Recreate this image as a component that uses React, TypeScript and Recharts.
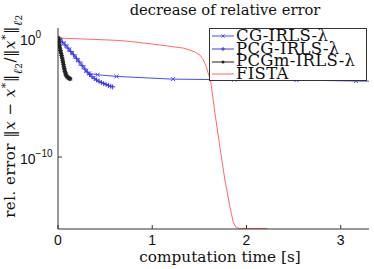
import React from 'react';
import { LineChart, Line, XAxis, YAxis, Legend } from 'recharts';

// values (errors stored as log10)
const cgTime = [0, 0.03, 0.06, 0.09, 0.12, 0.15, 0.18, 0.21, 0.24, 0.27, 0.3, 0.33, 0.42, 0.62, 1.22, 1.87, 2.53, 3.16, 3.3];
const cgLogErr = [0, -0.2, -0.43, -0.68, -0.96, -1.25, -1.55, -1.85, -2.15, -2.45, -2.75, -2.97, -3.08, -3.22, -3.45, -3.5, -3.53, -3.61, -3.62];

const pcgTime = [0, 0.015, 0.045, 0.075, 0.105, 0.135, 0.165, 0.195, 0.225, 0.255, 0.285, 0.31, 0.335, 0.36, 0.385, 0.41, 0.435, 0.46, 0.485, 0.51, 0.535, 0.56, 0.58];
const pcgLogErr = [0, -0.1, -0.33, -0.58, -0.84, -1.12, -1.4, -1.7, -2.0, -2.3, -2.6, -2.85, -3.06, -3.24, -3.4, -3.52, -3.63, -3.73, -3.82, -3.9, -3.98, -4.05, -4.1];

const pcgmTime = [0, 0.003, 0.006, 0.009, 0.012, 0.015, 0.018, 0.022, 0.026, 0.03, 0.034, 0.038, 0.042, 0.046, 0.05, 0.054, 0.058, 0.062, 0.066, 0.07, 0.074, 0.078, 0.082, 0.087, 0.093, 0.1, 0.108, 0.116, 0.124, 0.13];
const pcgmLogErr = [0, -0.12, -0.25, -0.38, -0.5, -0.63, -0.76, -0.9, -1.04, -1.18, -1.32, -1.46, -1.6, -1.74, -1.9, -2.06, -2.22, -2.38, -2.54, -2.68, -2.8, -2.92, -3.02, -3.12, -3.2, -3.27, -3.33, -3.37, -3.41, -3.43];

const fistaTime = [0, 0.2, 0.445, 0.636, 0.795, 1.0, 1.2, 1.33, 1.4, 1.46, 1.506, 1.535, 1.559, 1.578, 1.594, 1.619, 1.665, 1.718, 1.771, 1.824, 1.859, 1.88, 1.895, 1.93, 2.0, 2.1, 2.22];
const fistaLogErr = [0, -0.05, -0.13, -0.19, -0.31, -0.5, -0.7, -0.84, -1.01, -1.2, -1.43, -1.72, -2.13, -2.5, -2.97, -3.53, -6.3, -9.16, -11.93, -14.2, -15.45, -15.8, -15.95, -16.0, -16.0, -16.0, -16.0];

const xTicks = [0, 1, 2, 3];
const yTicks = [1e-10, 1];
const yTickExp = ['\u221210', '0'];

const seriesNames = ['CG-IRLS-\u03bb', 'PCG-IRLS-\u03bb', 'PCGm-IRLS-\u03bb', 'FISTA'];
const seriesColors = ['#4a4aff', '#3a3aee', '#222222', '#ff6a6a'];

const toRows = (t: number[], e: number[]) => t.map((v, i) => ({ t: v, err: Math.pow(10, e[i]) }));
const cgData = toRows(cgTime, cgLogErr);
const pcgData = toRows(pcgTime, pcgLogErr);
const pcgmData = toRows(pcgmTime, pcgmLogErr);
const fistaData = toRows(fistaTime, fistaLogErr);

const yDomain = [Math.pow(10, -16.05), Math.pow(10, 0.85)];
const frame = '#333';
const serif = '"DejaVu Serif", serif';
const sans = '"Liberation Sans", Arial, sans-serif';

const XMark = ({ cx, cy, c, s = 2 }: any) => (
  <path d={`M${cx - s},${cy - s}L${cx + s},${cy + s}M${cx - s},${cy + s}L${cx + s},${cy - s}`} stroke={c} strokeWidth={1} />
);
const PlusMark = ({ cx, cy, c, s = 2.5 }: any) => (
  <path d={`M${cx - s},${cy}L${cx + s},${cy}M${cx},${cy - s}L${cx},${cy + s}`} stroke={c} strokeWidth={1} />
);
const StarMark = ({ cx, cy, c, s = 2.2 }: any) => (
  <g>
    <path d={`M${cx - s},${cy}L${cx + s},${cy}M${cx},${cy - s}L${cx},${cy + s}M${cx - s * 0.7},${cy - s * 0.7}L${cx + s * 0.7},${cy + s * 0.7}M${cx - s * 0.7},${cy + s * 0.7}L${cx + s * 0.7},${cy - s * 0.7}`} stroke={c} strokeWidth={1} />
    <circle cx={cx} cy={cy} r={1.3} fill={c} />
  </g>
);

const BottomTick = ({ x, y, payload }: any) => (
  <g>
    <line x1={x} y1={y} x2={x} y2={y - 4} stroke={frame} />
    <text x={x} y={y + 16} textAnchor="middle" fontFamily={sans} fontSize={14} fill="#111">{payload.value}</text>
  </g>
);
const TopTick = ({ x, y }: any) => <line x1={x} y1={y} x2={x} y2={y + 4} stroke={frame} />;
const LeftTick = ({ x, y, index }: any) => (
  <g>
    <line x1={x} y1={y} x2={x + 4} y2={y} stroke={frame} />
    <text x={x - 38} y={y + 7} fontFamily={sans} fontSize={14} fill="#111">
      10<tspan fontSize={10} dy={-7}>{yTickExp[index]}</tspan>
    </text>
  </g>
);
const RightTick = ({ x, y }: any) => <line x1={x} y1={y} x2={x - 4} y2={y} stroke={frame} />;

const LegendBox = () => (
  <div style={{ border: '1px solid #333', background: '#fff', width: 156, height: 50, padding: '1px 0 0 0', boxSizing: 'content-box', overflow: 'visible' }}>
    {seriesNames.map((name, i) => (
      <div key={name} style={{ display: 'flex', alignItems: 'center', height: 12.7 }}>
        <svg width={26} height={12} style={{ flex: 'none' }}>
          <line x1={2} y1={6} x2={24} y2={6} stroke={seriesColors[i]} strokeWidth={1} />
          {i === 0 && <XMark cx={13} cy={6} c={seriesColors[i]} s={1.5} />}
          {i === 1 && <PlusMark cx={13} cy={6} c={seriesColors[i]} s={2} />}
          {i === 2 && <circle cx={13} cy={6} r={1.5} fill={seriesColors[i]} />}
        </svg>
        <span style={{ fontFamily: serif, fontSize: 16.5, letterSpacing: 0.3, lineHeight: '12.7px', color: '#111', whiteSpace: 'nowrap' }}>{name}</span>
      </div>
    ))}
  </div>
);

const dotFor = (Mark: any, c: string, skipLast: boolean, n: number) => (p: any) => {
  if (skipLast && p.index === n - 1) return <g key={`d-${c}-${p.index}`} />;
  return <Mark key={`d-${c}-${p.index}`} cx={p.cx} cy={p.cy} c={c} />;
};

const Titles = () => (
  <g>
    <text x={225} y={15} textAnchor="middle" fontFamily={serif} fontSize={14.7} fill="#111">decrease of relative error</text>
    <text x={220} y={262} textAnchor="middle" fontFamily={serif} fontSize={15.3} fill="#111">computation time [s]</text>
  </g>
);

const YTitle = () => (
  <text transform="rotate(-90, 15, 116)" x={15} y={116} textAnchor="middle" fontFamily={serif} fontSize={15} letterSpacing={0.5} fill="#111">
    rel. error {'\u2016'}<tspan fontStyle="italic">x</tspan> {'\u2212'} <tspan fontStyle="italic">x</tspan>
    <tspan baselineShift="super" fontSize={11}>*</tspan>{'\u2016'}
    <tspan baselineShift="sub" fontSize={12} fontStyle="italic">{'\u2113'}<tspan fontSize={9} fontStyle="normal">2</tspan></tspan>
    /{'\u2016'}<tspan fontStyle="italic">x</tspan><tspan baselineShift="super" fontSize={11}>*</tspan>{'\u2016'}
    <tspan baselineShift="sub" fontSize={12} fontStyle="italic">{'\u2113'}<tspan fontSize={9} fontStyle="normal">2</tspan></tspan>
  </text>
);

export default function App() {
  return (
    <div style={{ position: 'absolute', left: 0, top: 0, background: '#fff' }}>
      <LineChart width={374} height={269} margin={{ top: 28, right: 5, bottom: 0, left: 0 }}>
        <XAxis xAxisId="b" dataKey="t" type="number" domain={[0, 3.3]} ticks={xTicks} allowDataOverflow
          height={40} tickSize={0} tickMargin={0} tickLine={false} tick={<BottomTick />} axisLine={{ stroke: frame }}
          label={{ content: () => <Titles /> }} />
        <XAxis xAxisId="t" orientation="top" dataKey="t" type="number" domain={[0, 3.3]} ticks={xTicks} allowDataOverflow
          height={0} tickSize={0} tickMargin={0} tickLine={false} tick={<TopTick />} axisLine={{ stroke: frame }} />
        <YAxis yAxisId="l" scale="log" type="number" domain={yDomain} ticks={yTicks} allowDataOverflow
          width={58} tickSize={0} tickMargin={0} tickLine={false} tick={<LeftTick />} axisLine={{ stroke: frame }}
          label={{ content: () => <YTitle /> }} />
        <YAxis yAxisId="r" orientation="right" scale="log" type="number" domain={yDomain} ticks={yTicks} allowDataOverflow
          width={0} tickSize={0} tickMargin={0} tickLine={false} tick={<RightTick />} axisLine={{ stroke: frame }} />
        <Line xAxisId="b" yAxisId="l" data={fistaData} dataKey="err" name={seriesNames[3]} stroke={seriesColors[3]}
          strokeWidth={1} dot={false} isAnimationActive={false} />
        <Line xAxisId="b" yAxisId="l" data={cgData} dataKey="err" name={seriesNames[0]} stroke={seriesColors[0]}
          strokeWidth={1} dot={dotFor(XMark, seriesColors[0], true, cgData.length)} isAnimationActive={false} />
        <Line xAxisId="b" yAxisId="l" data={pcgData} dataKey="err" name={seriesNames[1]} stroke={seriesColors[1]}
          strokeWidth={1} dot={dotFor(PlusMark, seriesColors[1], false, pcgData.length)} isAnimationActive={false} />
        <Line xAxisId="b" yAxisId="l" data={pcgmData} dataKey="err" name={seriesNames[2]} stroke={seriesColors[2]}
          strokeWidth={1} dot={dotFor(StarMark, seriesColors[2], false, pcgmData.length)} isAnimationActive={false} />
        <Legend layout="vertical" align="center" verticalAlign="middle" content={<LegendBox />}
          wrapperStyle={{ position: 'absolute', left: 209, top: 28, width: 158, height: 52 }} />
      </LineChart>
    </div>
  );
}
